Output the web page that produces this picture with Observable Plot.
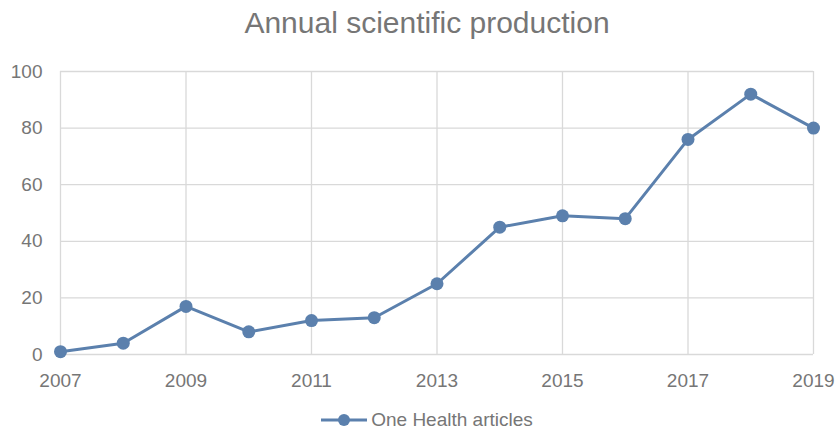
<!DOCTYPE html>
<html>
<head>
<meta charset="utf-8">
<script src="https://cdn.jsdelivr.net/npm/d3@7"></script>
<script src="https://cdn.jsdelivr.net/npm/@observablehq/plot@0.6"></script>
<style>
  html, body { margin: 0; padding: 0; background: #fff; }
  body { position: relative; width: 838px; height: 429px; overflow: hidden; font-family: "Liberation Sans", Arial, sans-serif; color: #767676; }
  #title { height: 50px; line-height: 46px; text-align: center; font-size: 30px; padding-left: 16px; box-sizing: border-box; }
  #chart svg { display: block; }
  #legend { position: absolute; left: 0; top: 410px; width: 838px; height: 19px; line-height: 19px; display: flex; align-items: center; justify-content: center; font-size: 19px; padding-left: 16px; box-sizing: border-box; }
  #legend svg { margin-right: 4px; }
</style>
</head>
<body>
<div id="title">Annual scientific production</div>
<div id="chart"></div>
<div id="legend"></div>
<script>
const years = [2007, 2008, 2009, 2010, 2011, 2012, 2013, 2014, 2015, 2016, 2017, 2018, 2019];
const articles = [1, 4, 17, 8, 12, 13, 25, 45, 49, 48, 76, 92, 80];
const xTicks = [2007, 2009, 2011, 2013, 2015, 2017, 2019];
const yTicks = [0, 20, 40, 60, 80, 100];
const seriesName = "One Health articles";

const color = "#5b80ad";
const data = years.map((y, i) => ({year: y, value: articles[i]}));

const chart = Plot.plot({
  width: 838,
  height: 344,
  marginTop: 21,
  marginLeft: 60,
  marginRight: 25,
  marginBottom: 40,
  style: {fontFamily: "Liberation Sans, Arial, sans-serif", fontSize: "19px", color: "#767676", background: "#fff"},
  x: {domain: [2007, 2019], label: null},
  y: {domain: [0, 100], label: null},
  marks: [
    Plot.gridX(xTicks, {stroke: "#d9d9d9", strokeOpacity: 1, strokeWidth: 1.3}),
    Plot.gridY(yTicks, {stroke: "#d9d9d9", strokeOpacity: 1, strokeWidth: 1.3}),
    Plot.axisX({ticks: xTicks, tickFormat: d => String(d), tickSize: 0, tickPadding: 19, fill: "#767676", fontSize: 19, label: null}),
    Plot.axisY({ticks: yTicks, tickSize: 0, tickPadding: 18, fill: "#767676", fontSize: 19, label: null}),
    Plot.line(data, {x: "year", y: "value", stroke: color, strokeWidth: 3}),
    Plot.dot(data, {x: "year", y: "value", fill: color, r: 6.5, stroke: "none"})
  ]
});
document.getElementById("chart").appendChild(chart);

const legend = document.getElementById("legend");
legend.innerHTML = `<svg width="46" height="16"><line x1="0" y1="8" x2="46" y2="8" stroke="${color}" stroke-width="3"/><circle cx="23" cy="8" r="6" fill="${color}"/></svg><span>${seriesName}</span>`;
</script>
</body>
</html>
